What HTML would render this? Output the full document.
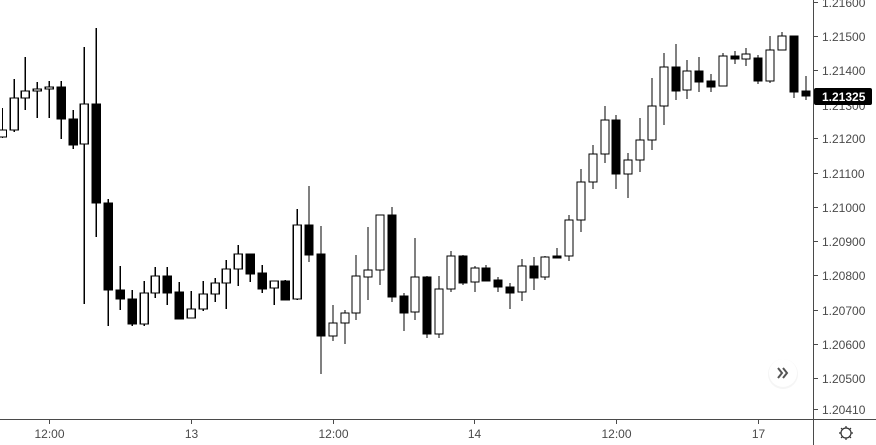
<!DOCTYPE html>
<html><head><meta charset="utf-8"><style>
html,body{margin:0;padding:0;background:#fff;width:876px;height:445px;overflow:hidden}
svg{display:block}
text{font-family:"Liberation Sans",sans-serif;font-size:12px;fill:#4a4a4a}
</style></head><body>
<svg width="876" height="445" viewBox="0 0 876 445" xmlns="http://www.w3.org/2000/svg">
<g stroke="#000" stroke-width="1.4" shape-rendering="crispEdges">
<line x1="2.5" y1="108" x2="2.5" y2="138"/><rect x="-1.5" y="130" width="8" height="7" fill="#fff"/>
<line x1="14.3" y1="79" x2="14.3" y2="132"/><rect x="10.3" y="98" width="8" height="32" fill="#fff"/>
<line x1="25.3" y1="57" x2="25.3" y2="110"/><rect x="21.3" y="91" width="8" height="7" fill="#fff"/>
<line x1="37.3" y1="82" x2="37.3" y2="118"/><rect x="33.3" y="89" width="8" height="2" fill="#fff"/>
<line x1="49.3" y1="81" x2="49.3" y2="118"/><rect x="45.3" y="87" width="8" height="2" fill="#fff"/>
<line x1="61.3" y1="81" x2="61.3" y2="139"/><rect x="57.3" y="87" width="8" height="32" fill="#000"/>
<line x1="73.3" y1="110" x2="73.3" y2="149"/><rect x="69.3" y="119" width="8" height="26" fill="#000"/>
<line x1="84.3" y1="47" x2="84.3" y2="304"/><rect x="80.3" y="104" width="8" height="40" fill="#fff"/>
<line x1="96.3" y1="28" x2="96.3" y2="237"/><rect x="92.3" y="104" width="8" height="99" fill="#000"/>
<line x1="108.3" y1="199" x2="108.3" y2="326"/><rect x="104.3" y="203" width="8" height="87" fill="#000"/>
<line x1="120.3" y1="266" x2="120.3" y2="310"/><rect x="116.3" y="290" width="8" height="9" fill="#000"/>
<line x1="132.3" y1="290" x2="132.3" y2="326"/><rect x="128.3" y="299" width="8" height="25" fill="#000"/>
<line x1="144.3" y1="281" x2="144.3" y2="326"/><rect x="140.3" y="293" width="8" height="31" fill="#fff"/>
<line x1="155.3" y1="267" x2="155.3" y2="298"/><rect x="151.3" y="276" width="8" height="17" fill="#fff"/>
<line x1="167.3" y1="267" x2="167.3" y2="305"/><rect x="163.3" y="276" width="8" height="17" fill="#000"/>
<line x1="179.3" y1="282" x2="179.3" y2="319"/><rect x="175.3" y="292" width="8" height="27" fill="#000"/>
<line x1="191.3" y1="291" x2="191.3" y2="318"/><rect x="187.3" y="309" width="8" height="9" fill="#fff"/>
<line x1="203.3" y1="281" x2="203.3" y2="311"/><rect x="199.3" y="294" width="8" height="15" fill="#fff"/>
<line x1="215.3" y1="278" x2="215.3" y2="302"/><rect x="211.3" y="283" width="8" height="11" fill="#fff"/>
<line x1="226.3" y1="260" x2="226.3" y2="309"/><rect x="222.3" y="269" width="8" height="14" fill="#fff"/>
<line x1="238.3" y1="245" x2="238.3" y2="286"/><rect x="234.3" y="254" width="8" height="15" fill="#fff"/>
<line x1="250.3" y1="254" x2="250.3" y2="282"/><rect x="246.3" y="254" width="8" height="20" fill="#000"/>
<line x1="262.3" y1="265" x2="262.3" y2="293"/><rect x="258.3" y="273" width="8" height="16" fill="#000"/>
<line x1="274.3" y1="281" x2="274.3" y2="305"/><rect x="270.3" y="281" width="8" height="7" fill="#fff"/>
<line x1="285.3" y1="280" x2="285.3" y2="300"/><rect x="281.3" y="281" width="8" height="19" fill="#000"/>
<line x1="297.3" y1="209" x2="297.3" y2="300"/><rect x="293.3" y="225" width="8" height="74" fill="#fff"/>
<line x1="309" y1="186" x2="309" y2="262"/><rect x="305" y="225" width="8" height="30" fill="#000"/>
<line x1="321" y1="226" x2="321" y2="374"/><rect x="317" y="254" width="8" height="82" fill="#000"/>
<line x1="333" y1="305" x2="333" y2="341"/><rect x="329" y="323" width="8" height="13" fill="#fff"/>
<line x1="345" y1="310" x2="345" y2="344"/><rect x="341" y="313" width="8" height="10" fill="#fff"/>
<line x1="356" y1="255" x2="356" y2="320"/><rect x="352" y="276" width="8" height="37" fill="#fff"/>
<line x1="368" y1="227" x2="368" y2="300"/><rect x="364" y="270" width="8" height="7" fill="#fff"/>
<line x1="380" y1="215" x2="380" y2="285"/><rect x="376" y="215" width="8" height="55" fill="#fff"/>
<line x1="392" y1="207" x2="392" y2="302"/><rect x="388" y="215" width="8" height="82" fill="#000"/>
<line x1="404" y1="293" x2="404" y2="331"/><rect x="400" y="296" width="8" height="17" fill="#000"/>
<line x1="415" y1="238" x2="415" y2="320"/><rect x="411" y="277" width="8" height="35" fill="#fff"/>
<line x1="427" y1="276" x2="427" y2="338"/><rect x="423" y="277" width="8" height="57" fill="#000"/>
<line x1="439" y1="276" x2="439" y2="338"/><rect x="435" y="289" width="8" height="45" fill="#fff"/>
<line x1="451" y1="251" x2="451" y2="292"/><rect x="447" y="256" width="8" height="33" fill="#fff"/>
<line x1="463" y1="255" x2="463" y2="285"/><rect x="459" y="256" width="8" height="27" fill="#000"/>
<line x1="475" y1="266" x2="475" y2="292"/><rect x="471" y="268" width="8" height="14" fill="#fff"/>
<line x1="486" y1="265" x2="486" y2="281"/><rect x="482" y="268" width="8" height="13" fill="#000"/>
<line x1="498" y1="277" x2="498" y2="292"/><rect x="494" y="280" width="8" height="7" fill="#000"/>
<line x1="510" y1="283" x2="510" y2="309"/><rect x="506" y="287" width="8" height="6" fill="#000"/>
<line x1="522" y1="259" x2="522" y2="301"/><rect x="518" y="266" width="8" height="26" fill="#fff"/>
<line x1="534" y1="257" x2="534" y2="290"/><rect x="530" y="266" width="8" height="12" fill="#000"/>
<line x1="545" y1="256" x2="545" y2="280"/><rect x="541" y="257" width="8" height="20" fill="#fff"/>
<line x1="557" y1="248" x2="557" y2="258"/><rect x="553" y="256" width="8" height="2" fill="#000"/>
<line x1="569" y1="215" x2="569" y2="261"/><rect x="565" y="220" width="8" height="36" fill="#fff"/>
<line x1="581" y1="169" x2="581" y2="232"/><rect x="577" y="182" width="8" height="38" fill="#fff"/>
<line x1="593" y1="145" x2="593" y2="189"/><rect x="589" y="154" width="8" height="28" fill="#fff"/>
<line x1="605" y1="106" x2="605" y2="163"/><rect x="601" y="120" width="8" height="34" fill="#fff"/>
<line x1="616" y1="115" x2="616" y2="189"/><rect x="612" y="120" width="8" height="54" fill="#000"/>
<line x1="628" y1="153" x2="628" y2="198"/><rect x="624" y="160" width="8" height="14" fill="#fff"/>
<line x1="640" y1="118" x2="640" y2="172"/><rect x="636" y="140" width="8" height="20" fill="#fff"/>
<line x1="652" y1="78" x2="652" y2="150"/><rect x="648" y="106" width="8" height="34" fill="#fff"/>
<line x1="664" y1="53" x2="664" y2="125"/><rect x="660" y="67" width="8" height="39" fill="#fff"/>
<line x1="676" y1="44" x2="676" y2="100"/><rect x="672" y="67" width="8" height="24" fill="#000"/>
<line x1="687" y1="60" x2="687" y2="99"/><rect x="683" y="71" width="8" height="19" fill="#fff"/>
<line x1="699" y1="57" x2="699" y2="92"/><rect x="695" y="71" width="8" height="11" fill="#000"/>
<line x1="711" y1="74" x2="711" y2="92"/><rect x="707" y="81" width="8" height="6" fill="#000"/>
<line x1="723" y1="53" x2="723" y2="86"/><rect x="719" y="56" width="8" height="30" fill="#fff"/>
<line x1="735" y1="51" x2="735" y2="64"/><rect x="731" y="56" width="8" height="3" fill="#000"/>
<line x1="746" y1="48" x2="746" y2="66"/><rect x="742" y="54" width="8" height="5" fill="#fff"/>
<line x1="758" y1="55" x2="758" y2="84"/><rect x="754" y="58" width="8" height="23" fill="#000"/>
<line x1="770" y1="36" x2="770" y2="83"/><rect x="766" y="50" width="8" height="31" fill="#fff"/>
<line x1="782" y1="32" x2="782" y2="50"/><rect x="778" y="36" width="8" height="14" fill="#fff"/>
<line x1="794" y1="36" x2="794" y2="98"/><rect x="790" y="36" width="8" height="56" fill="#000"/>
<line x1="806" y1="76" x2="806" y2="100"/><rect x="802" y="91" width="8" height="5" fill="#000"/>
</g>
<rect x="814" y="0" width="62" height="445" fill="#fff"/>
<rect x="0" y="420" width="876" height="25" fill="#fff"/>
<g stroke="#4a4a4a" stroke-width="1" shape-rendering="crispEdges">
<line x1="813.5" y1="0" x2="813.5" y2="445"/>
<line x1="0" y1="419.5" x2="876" y2="419.5"/>
<line x1="814" y1="2.5" x2="818" y2="2.5"/>
<line x1="814" y1="36.5" x2="818" y2="36.5"/>
<line x1="814" y1="70.5" x2="818" y2="70.5"/>
<line x1="814" y1="138.5" x2="818" y2="138.5"/>
<line x1="814" y1="173.5" x2="818" y2="173.5"/>
<line x1="814" y1="207.5" x2="818" y2="207.5"/>
<line x1="814" y1="241.5" x2="818" y2="241.5"/>
<line x1="814" y1="275.5" x2="818" y2="275.5"/>
<line x1="814" y1="310.5" x2="818" y2="310.5"/>
<line x1="814" y1="344.5" x2="818" y2="344.5"/>
<line x1="814" y1="378.5" x2="818" y2="378.5"/>
<line x1="814" y1="409.5" x2="818" y2="409.5"/>
<line x1="49.5" y1="420" x2="49.5" y2="424"/>
<line x1="191.5" y1="420" x2="191.5" y2="424"/>
<line x1="333.5" y1="420" x2="333.5" y2="424"/>
<line x1="474.5" y1="420" x2="474.5" y2="424"/>
<line x1="616.5" y1="420" x2="616.5" y2="424"/>
<line x1="758.5" y1="420" x2="758.5" y2="424"/>
</g>
<g>
<text x="822" y="7">1.21600</text>
<text x="822" y="41">1.21500</text>
<text x="822" y="75">1.21400</text>
<text x="822" y="110">1.21300</text>
<text x="822" y="143">1.21200</text>
<text x="822" y="178">1.21100</text>
<text x="822" y="212">1.21000</text>
<text x="822" y="246">1.20900</text>
<text x="822" y="280">1.20800</text>
<text x="822" y="315">1.20700</text>
<text x="822" y="349">1.20600</text>
<text x="822" y="383">1.20500</text>
<text x="822" y="414">1.20410</text>
</g>
<rect x="814" y="88" width="58" height="17" rx="2" fill="#000"/>
<text x="822" y="101" style="fill:#fff;font-weight:bold">1.21325</text>
<g text-anchor="middle">
<text x="49.5" y="438">12:00</text>
<text x="191.5" y="438">13</text>
<text x="333.5" y="438">12:00</text>
<text x="474.5" y="438">14</text>
<text x="616.5" y="438">12:00</text>
<text x="758.5" y="438">17</text>
</g>
<circle cx="783" cy="374" r="15" fill="#eee" opacity="0.6"/>
<circle cx="783" cy="373" r="14" fill="#fff"/>
<path d="M778 368 l4 5 l-4 5 M783 368 l4 5 l-4 5" fill="none" stroke="#555" stroke-width="2"/>
<g fill="none" stroke="#333" stroke-width="1.2">
<circle cx="846" cy="433" r="5"/>
<path d="M846 426v2M846 438v2M839 433h2M851 433h2M841 428l1.4 1.4M849.6 436.6l1.4 1.4M841 438l1.4-1.4M849.6 429.4l1.4-1.4"/>
</g>
</svg>
</body></html>
